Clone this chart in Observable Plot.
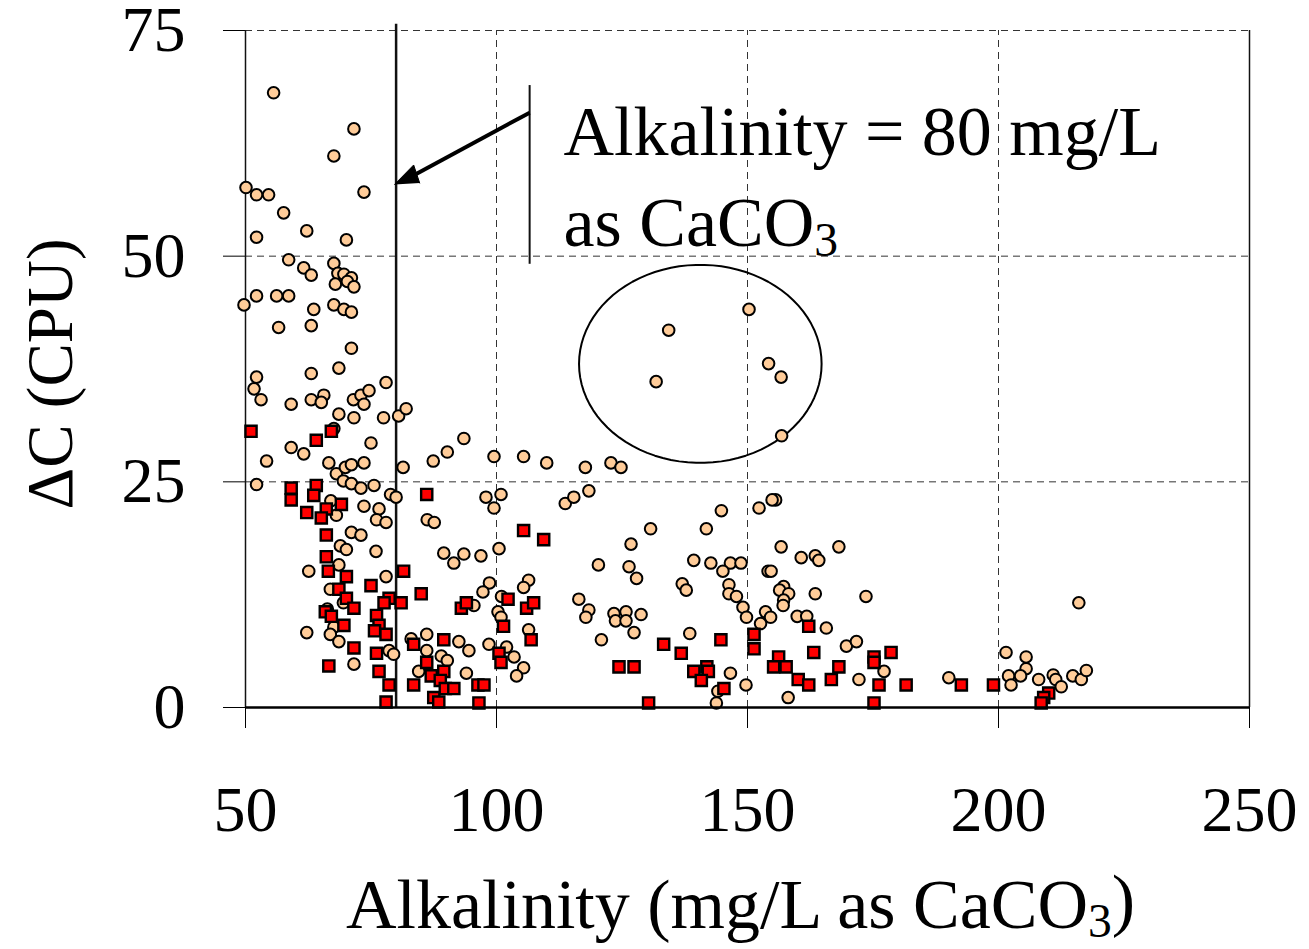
<!DOCTYPE html>
<html>
<head>
<meta charset="utf-8">
<script src="https://cdn.jsdelivr.net/npm/d3@7"></script>
<script src="https://cdn.jsdelivr.net/npm/@observablehq/plot@0.6"></script>
<style>
  html, body { margin: 0; padding: 0; background: #fff; }
  #chart { width: 1309px; height: 949px; }
</style>
</head>
<body>
<div id="chart"></div>
<script>
// ---- Data (Alkalinity mg/L as CaCO3, ΔC in CPU) ----
// Series 1: peach circles
const circlePoints = [
  [55.6,68.1],[71.6,64.1],[67.6,61.1],[50.1,57.6],[52.2,56.8],[54.6,56.8],[73.6,57.1],[57.6,54.8],
  [62.2,52.8],[52.2,52.1],[70.1,51.8],[58.6,49.6],[61.6,48.7],[67.6,49.2],
  [63.1,47.9],[68.4,48.1],[69.6,48.0],[71.1,47.6],[67.9,46.9],[70.3,47.2],[71.6,46.6],[52.2,45.6],
  [56.2,45.6],[58.6,45.6],[49.7,44.6],[63.6,44.1],[67.6,44.6],[69.6,44.1],[71.1,43.8],[56.6,42.1],
  [63.1,42.3],[71.1,39.8],[68.6,37.6],[63.1,37.0],[52.2,36.6],[51.7,35.3],[53.1,34.1],[59.1,33.6],
  [63.1,34.1],[65.6,34.6],[65.1,33.8],[71.5,34.1],[73.0,34.6],[74.6,35.1],[73.6,33.6],[78.0,36.0],
  [68.6,32.5],[71.6,32.1],[77.5,32.1],[80.5,32.3],[82.0,33.1],[67.6,30.9],[75.0,29.3],[59.1,28.8],
  [61.6,28.1],[54.2,27.3],[66.6,27.1],[68.1,25.9],[69.9,26.6],[71.1,26.9],[73.6,27.1],[81.4,26.6],
  [87.4,27.3],[90.2,28.3],[69.5,25.1],[71.1,24.8],[52.2,24.7],[73.0,24.3],[75.6,24.6],
  [78.9,23.6],[80.0,23.3],[67.0,22.9],[68.1,21.3],[73.6,22.3],[76.6,22.0],[76.1,20.8],[78.0,20.5],
  [86.2,20.8],[87.6,20.5],[71.1,19.4],[73.0,19.1],[68.9,17.9],[70.1,17.5],[76.0,17.3],[89.5,17.1],
  [68.6,15.8],[62.6,15.1],[78.0,14.5],[66.9,13.1],[69.5,11.6],[66.3,10.9],[67.6,8.9],[62.2,8.3],
  [66.9,8.1],[68.6,7.3],[83.0,7.6],[86.1,8.1],[86.1,6.3],[78.6,6.3],[79.5,5.9],[89.0,5.7],
  [90.2,5.2],[71.6,4.8],[84.5,4.0],
  [93.5,29.8],[99.5,27.8],[105.4,27.8],[110.0,27.1],[117.7,26.6],[122.8,27.1],[124.8,26.6],
  [97.9,23.3],[100.9,23.6],[99.5,22.1],[113.7,22.6],[115.4,23.3],[118.4,24.0],[130.7,19.8],
  [126.8,18.1],[139.3,16.3],[120.3,15.8],[126.4,15.6],[127.9,14.3],[91.5,16.0],[93.5,17.0],
  [96.9,16.8],[100.5,17.6],[98.6,13.8],[97.3,12.8],[106.4,14.1],[105.4,13.3],[95.5,11.3],
  [101.0,12.3],[100.3,10.6],[100.9,10.0],[106.4,8.6],[116.4,12.0],[118.4,10.8],[117.8,10.0],
  [123.4,10.4],[125.8,10.6],[128.8,10.3],[123.7,9.6],[125.8,9.6],[127.4,8.3],[120.9,7.5],
  [138.5,8.2],[92.5,7.3],[94.5,6.3],[98.5,7.0],[102.0,6.7],[103.5,5.6],[105.4,4.4],[104.0,3.5],
  [94.0,3.8],
  [156.8,30.1],[155.6,23.0],[154.9,23.0],[152.3,22.1],[144.8,21.8],[141.8,19.8],[156.7,17.8],
  [168.2,17.8],[160.7,16.6],[163.5,16.8],[164.2,16.3],[142.7,16.0],[146.6,16.0],[148.7,16.0],
  [145.1,15.1],[154.1,15.1],[154.7,15.1],[137.0,13.7],[137.8,13.0],[146.3,13.6],[146.3,12.6],
  [147.8,12.3],[157.2,13.4],[156.4,13.0],[158.2,12.6],[157.2,11.9],[157.1,11.3],[163.5,12.6],
  [173.6,12.3],[149.1,11.1],[149.8,10.0],[153.6,10.6],[154.6,10.0],[152.6,9.3],[159.9,10.1],
  [161.8,10.1],[165.7,8.8],[169.7,6.8],[171.7,7.3],[146.6,3.8],[149.7,2.5],[144.1,1.8],
  [143.8,0.5],[158.1,1.1],[172.2,3.1],[177.2,4.0],
  [216.0,11.6],[190.1,3.3],[201.5,6.1],[205.5,5.6],[205.5,4.3],[202.0,3.5],[204.4,3.5],
  [202.5,2.5],[208.0,3.1],[210.9,3.6],[211.4,3.1],[212.5,2.3],[214.8,3.5],[216.5,3.1],[217.5,4.1],
  [150.3,44.1],[134.3,41.8],[131.8,36.1],[154.2,38.1],[156.7,36.6]
];
// Series 2: red squares
const squarePoints = [
  [51.1,30.6],[64.1,29.6],[67.1,30.6],[59.1,24.3],[64.1,24.6],
  [59.1,23.0],[63.6,23.5],[86.1,23.6],[69.1,22.5],[66.1,22.0],[62.2,21.6],[65.1,21.0],[66.1,19.1],
  [66.1,16.7],[66.5,15.1],[70.1,14.5],[81.5,15.1],[75.0,13.5],[68.6,13.1],[85.0,12.6],[70.1,12.1],
  [71.6,11.0],[78.6,12.1],[77.6,11.6],[81.0,11.6],[65.9,10.6],[67.1,10.1],[76.1,10.2],[69.6,9.1],
  [76.6,9.1],[75.7,8.5],[78.0,8.1],[89.5,7.5],[83.5,7.0],[71.6,6.6],[76.1,6.0],[66.6,4.6],
  [86.1,5.0],[76.6,4.0],[87.0,3.5],[89.5,4.0],[88.8,3.0],[89.8,2.1],[78.6,2.5],[83.5,2.5],
  [87.5,1.1],[88.5,0.6],[78.0,0.6],
  [105.4,19.6],[109.4,18.6],[93.0,11.0],[94.0,11.6],[102.3,12.0],[106.0,11.0],[107.4,11.6],
  [101.4,9.0],[106.9,7.5],[133.3,7.0],[136.8,6.0],[124.4,4.5],[127.4,4.5],[130.3,0.5],
  [100.5,6.0],[100.9,5.0],[91.5,2.1],[96.3,2.5],[97.5,2.5],[96.5,0.5],
  [144.7,7.5],[151.3,8.1],[151.3,6.5],[162.2,9.0],[163.2,6.1],[156.2,5.6],[155.2,4.5],[157.7,4.5],
  [139.3,4.0],[141.9,4.5],[142.2,4.0],[140.8,3.0],[145.3,2.1],[160.1,3.1],[162.2,2.5],[168.2,4.5],
  [166.7,3.1],[175.2,5.6],[175.2,5.0],[178.6,6.1],[176.2,2.5],[181.6,2.5],[175.2,0.5],
  [192.6,2.5],[199.0,2.5],[210.0,1.6],[209.0,1.1],[208.5,0.5]
];
// Axis ticks and labels
const xTicks = [50, 100, 150, 200, 250];
const yTicks = [0, 25, 50, 75];
const xGrid = [100, 150, 200];
const yGrid = [25, 50, 75];
const xTitle = "Alkalinity (mg/L as CaCO3)";
const yTitle = "ΔC (CPU)";
const annotLine1 = "Alkalinity = 80 mg/L";
const annotLine2 = "as CaCO3";
const thresholdX = [80];

// Annotation geometry (data coordinates)
const calloutBar = {x: 106.6, y1: 49.1, y2: 68.9};
const arrowShaft = [{x1: 106.6, y1: 65.9, x2: 84.0, y2: 59.1}];
const arrowHead = [{x: 79.7, y: 57.95}, {x: 83.5, y: 60.1}, {x: 84.7, y: 58.1}];
const ellipseSpec = {cx: 140.6, cy: 38.07, rx: 24.16, ry: 10.97};
const ellipsePts = d3.range(0, 361, 4).map(a => ({
  x: ellipseSpec.cx + ellipseSpec.rx * Math.cos(a * Math.PI / 180),
  y: ellipseSpec.cy + ellipseSpec.ry * Math.sin(a * Math.PI / 180)
}));

const circles = circlePoints.map(([x, y]) => ({x, y}));
const squares = squarePoints.map(([x, y]) => ({x, y}));

const font = "Liberation Serif, Times New Roman, serif";

const chart = Plot.plot({
  width: 1309,
  height: 949,
  marginLeft: 245,
  marginRight: 60,
  marginTop: 30,
  marginBottom: 242,
  style: {fontFamily: font, fontSize: "64px", color: "black", background: "white", overflow: "visible"},
  x: {domain: [50, 250], ticks: xTicks, tickSize: 21, tickPadding: 57, label: null, tickFormat: d => String(d)},
  y: {domain: [0, 75], ticks: yTicks, tickSize: 22, tickPadding: 38, label: null, tickFormat: d => String(d)},
  marks: [
    // dashed grid
    Plot.ruleX(xGrid, {y1: 0, y2: 75, stroke: "#333", strokeWidth: 1, strokeDasharray: "7,5"}),
    Plot.ruleY(yGrid, {x1: 50, x2: 250, stroke: "#333", strokeWidth: 1, strokeDasharray: "7,5"}),
    // frame lines
    Plot.ruleX([50], {y1: 0, y2: 75, stroke: "#111", strokeWidth: 1.5}),
    Plot.ruleX([250], {y1: 0, y2: 75, stroke: "#111", strokeWidth: 1.5}),
    // threshold line
    Plot.ruleX(thresholdX, {y1: 0, y2: 75.7, stroke: "#111", strokeWidth: 2.5}),
    // callout bar + arrow
    Plot.ruleX([calloutBar.x], {y1: calloutBar.y1, y2: calloutBar.y2, stroke: "#111", strokeWidth: 2}),
    Plot.link(arrowShaft, {x1: "x1", y1: "y1", x2: "x2", y2: "y2", stroke: "black", strokeWidth: 4}),
    Plot.line(arrowHead, {x: "x", y: "y", fill: "black", stroke: "black", strokeWidth: 1}),
    // ellipse
    Plot.line(ellipsePts, {x: "x", y: "y", stroke: "black", strokeWidth: 2, curve: "linear-closed"}),
    // data
    Plot.dot(circles, {x: "x", y: "y", r: 5.8, fill: "#FFCC99", stroke: "black", strokeWidth: 2}),
    Plot.dot(squares, {x: "x", y: "y", symbol: "square", r: 6.3, fill: "#FF0000", stroke: "black", strokeWidth: 2.4}),
    // bottom axis line
    Plot.ruleY([0], {x1: 50, x2: 250, stroke: "black", strokeWidth: 2.5}),
    // annotation text
    Plot.text([annotLine1], {x: 113.35, y: 63.68, text: d => d, textAnchor: "start", lineAnchor: "middle", fontSize: 70, fill: "black"}),
    Plot.text([annotLine2], {x: 113.35, y: 53.6, text: d => d, textAnchor: "start", lineAnchor: "middle", fontSize: 70, fill: "black"}),
    // axis titles
    Plot.text([xTitle], {frameAnchor: "bottom", text: d => d, textAnchor: "middle", lineAnchor: "middle", dy: 198, dx: -7, fontSize: 70, fill: "black"}),
    Plot.text([yTitle], {frameAnchor: "left", text: d => d, textAnchor: "middle", lineAnchor: "middle", dx: -194, dy: 5, rotate: -90, fontSize: 65, fill: "black"})
  ]
});

// subscript the "3" in CaCO3
chart.querySelectorAll("text").forEach(t => {
  const tc = t.textContent;
  if (tc.includes("CaCO3") && t.children.length === 0) {
    const idx = tc.indexOf("CaCO3") + 4;
    const before = tc.slice(0, idx);
    const after = tc.slice(idx + 1);
    while (t.firstChild) t.removeChild(t.firstChild);
    const ns = "http://www.w3.org/2000/svg";
    const s1 = document.createElementNS(ns, "tspan"); s1.textContent = before;
    const s2 = document.createElementNS(ns, "tspan"); s2.textContent = "3";
    s2.setAttribute("font-size", "0.68em"); s2.setAttribute("dy", "0.2em");
    t.appendChild(s1); t.appendChild(s2);
    if (after) {
      const s3 = document.createElementNS(ns, "tspan"); s3.textContent = after;
      s3.setAttribute("dy", "-0.2em");
      t.appendChild(s3);
    }
  }
});

document.getElementById("chart").appendChild(chart);
</script>
</body>
</html>
